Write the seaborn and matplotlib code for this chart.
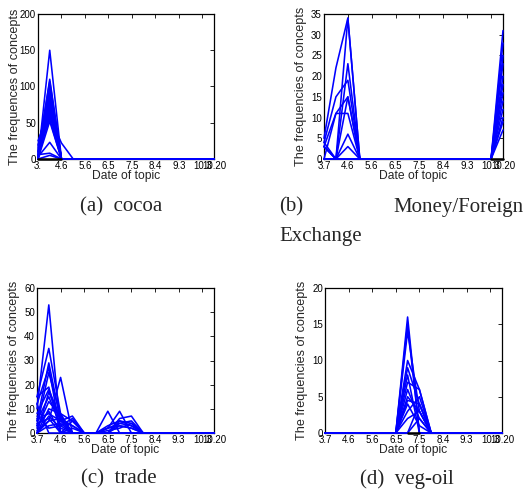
import pandas as pd
import matplotlib
matplotlib.use("Agg")
import matplotlib.pyplot as plt
import seaborn as sns

# index of the topic dates (half-month steps), ticks every two steps
x_index = list(range(16))
tick_pos = [0, 2, 4, 6, 8, 10, 12, 14, 15]
tick_labels = ["3.7", "4.6", "5.6", "6.5", "7.5", "8.4", "9.3", "10.3", "10.20"]
tick_labels_a = ["3.", "4.6", "5.6", "6.5", "7.5", "8.4", "9.3", "10.3", "10.20"]

# (a) cocoa: one row per concept, 16 dates
cocoa_lines = [
    [0, 150, 0, 0, 0, 0, 0, 0, 0, 0, 0, 0, 0, 0, 0, 0],
    [5, 110, 0, 0, 0, 0, 0, 0, 0, 0, 0, 0, 0, 0, 0, 0],
    [10, 107, 0, 0, 0, 0, 0, 0, 0, 0, 0, 0, 0, 0, 0, 0],
    [3, 100, 0, 0, 0, 0, 0, 0, 0, 0, 0, 0, 0, 0, 0, 0],
    [15, 95, 0, 0, 0, 0, 0, 0, 0, 0, 0, 0, 0, 0, 0, 0],
    [0, 91, 0, 0, 0, 0, 0, 0, 0, 0, 0, 0, 0, 0, 0, 0],
    [8, 87, 0, 0, 0, 0, 0, 0, 0, 0, 0, 0, 0, 0, 0, 0],
    [20, 84, 0, 0, 0, 0, 0, 0, 0, 0, 0, 0, 0, 0, 0, 0],
    [2, 80, 0, 0, 0, 0, 0, 0, 0, 0, 0, 0, 0, 0, 0, 0],
    [12, 76, 0, 0, 0, 0, 0, 0, 0, 0, 0, 0, 0, 0, 0, 0],
    [0, 72, 0, 0, 0, 0, 0, 0, 0, 0, 0, 0, 0, 0, 0, 0],
    [25, 68, 0, 0, 0, 0, 0, 0, 0, 0, 0, 0, 0, 0, 0, 0],
    [5, 65, 0, 0, 0, 0, 0, 0, 0, 0, 0, 0, 0, 0, 0, 0],
    [0, 62, 0, 0, 0, 0, 0, 0, 0, 0, 0, 0, 0, 0, 0, 0],
    [18, 58, 22, 0, 0, 0, 0, 0, 0, 0, 0, 0, 0, 0, 0, 0],
    [10, 55, 0, 0, 0, 0, 0, 0, 0, 0, 0, 0, 0, 0, 0, 0],
    [0, 52, 0, 0, 0, 0, 0, 0, 0, 0, 0, 0, 0, 0, 0, 0],
    [3, 23, 0, 0, 0, 0, 0, 0, 0, 0, 0, 0, 0, 0, 0, 0],
    [6, 8, 0, 0, 0, 0, 0, 0, 0, 0, 0, 0, 0, 0, 0, 0],
    [0, 5, 0, 0, 0, 0, 0, 0, 0, 0, 0, 0, 0, 0, 0, 0],
]
cocoa_black = [[0, 0], [2, 0]]  # (start idx, value), (end idx, value)

# (b) Money/Foreign Exchange
money_lines = [
    [5, 22, 34, 0, 0, 0, 0, 0, 0, 0, 0, 0, 0, 0, 0, 31],
    [4, 15, 19, 0, 0, 0, 0, 0, 0, 0, 0, 0, 0, 0, 0, 28],
    [3, 11, 11, 0, 0, 0, 0, 0, 0, 0, 0, 0, 0, 0, 0, 25],
    [4, 0, 34, 0, 0, 0, 0, 0, 0, 0, 0, 0, 0, 0, 0, 23],
    [3, 0, 23, 0, 0, 0, 0, 0, 0, 0, 0, 0, 0, 0, 0, 20],
    [0, 0, 15, 0, 0, 0, 0, 0, 0, 0, 0, 0, 0, 0, 0, 18],
    [3, 0, 6, 0, 0, 0, 0, 0, 0, 0, 0, 0, 0, 0, 0, 16],
    [0, 0, 3, 0, 0, 0, 0, 0, 0, 0, 0, 0, 0, 0, 0, 14],
    [0, 11, 15, 0, 0, 0, 0, 0, 0, 0, 0, 0, 0, 0, 0, 12],
    [3, 0, 0, 0, 0, 0, 0, 0, 0, 0, 0, 0, 0, 0, 0, 10],
    [0, 0, 0, 0, 0, 0, 0, 0, 0, 0, 0, 0, 0, 0, 0, 9],
    [0, 0, 0, 0, 0, 0, 0, 0, 0, 0, 0, 0, 0, 0, 0, 7],
]
money_black = [[14, 0], [15, 0]]

# (c) trade
trade_lines = [
    [10, 53, 0, 0, 0, 0, 0, 0, 0, 0, 0, 0, 0, 0, 0, 0],
    [15, 35, 8, 0, 0, 0, 9, 0, 0, 0, 0, 0, 0, 0, 0, 0],
    [5, 29, 5, 0, 0, 0, 2, 9, 0, 0, 0, 0, 0, 0, 0, 0],
    [0, 5, 23, 0, 0, 0, 0, 6, 7, 0, 0, 0, 0, 0, 0, 0],
    [12, 27, 0, 0, 0, 0, 3, 5, 4, 0, 0, 0, 0, 0, 0, 0],
    [3, 25, 7, 0, 0, 0, 2, 4, 3, 0, 0, 0, 0, 0, 0, 0],
    [8, 18, 6, 3, 0, 0, 0, 3, 2, 0, 0, 0, 0, 0, 0, 0],
    [0, 17, 5, 7, 0, 0, 1, 2, 4, 0, 0, 0, 0, 0, 0, 0],
    [5, 15, 3, 6, 0, 0, 0, 5, 3, 0, 0, 0, 0, 0, 0, 0],
    [2, 13, 7, 0, 0, 0, 0, 4, 5, 0, 0, 0, 0, 0, 0, 0],
    [0, 10, 8, 5, 0, 0, 2, 3, 2, 0, 0, 0, 0, 0, 0, 0],
    [3, 9, 0, 2, 0, 0, 0, 0, 0, 0, 0, 0, 0, 0, 0, 0],
    [6, 8, 5, 3, 0, 0, 0, 0, 0, 0, 0, 0, 0, 0, 0, 0],
    [0, 7, 2, 0, 0, 0, 0, 0, 0, 0, 0, 0, 0, 0, 0, 0],
    [4, 6, 0, 5, 0, 0, 0, 0, 0, 0, 0, 0, 0, 0, 0, 0],
    [1, 5, 6, 0, 0, 0, 0, 0, 0, 0, 0, 0, 0, 0, 0, 0],
    [0, 3, 4, 0, 0, 0, 0, 0, 0, 0, 0, 0, 0, 0, 0, 0],
    [15, 19, 0, 0, 0, 0, 0, 0, 0, 0, 0, 0, 0, 0, 0, 0],
    [12, 0, 0, 0, 0, 0, 0, 0, 0, 0, 0, 0, 0, 0, 0, 0],
    [7, 2, 3, 0, 0, 0, 0, 0, 0, 0, 0, 0, 0, 0, 0, 0],
]

# (d) veg-oil
vegoil_lines = [
    [0, 0, 0, 0, 0, 0, 0, 16, 0, 0, 0, 0, 0, 0, 0, 0],
    [0, 0, 0, 0, 0, 0, 0, 15, 0, 0, 0, 0, 0, 0, 0, 0],
    [0, 0, 0, 0, 0, 0, 0, 14, 3, 0, 0, 0, 0, 0, 0, 0],
    [0, 0, 0, 0, 0, 0, 0, 10, 6, 0, 0, 0, 0, 0, 0, 0],
    [0, 0, 0, 0, 0, 0, 0, 9, 4, 0, 0, 0, 0, 0, 0, 0],
    [0, 0, 0, 0, 0, 0, 0, 8, 0, 0, 0, 0, 0, 0, 0, 0],
    [0, 0, 0, 0, 0, 0, 0, 7, 6, 0, 0, 0, 0, 0, 0, 0],
    [0, 0, 0, 0, 0, 0, 0, 6, 2, 0, 0, 0, 0, 0, 0, 0],
    [0, 0, 0, 0, 0, 0, 0, 5, 3, 0, 0, 0, 0, 0, 0, 0],
    [0, 0, 0, 0, 0, 0, 0, 4.5, 4, 0, 0, 0, 0, 0, 0, 0],
    [0, 0, 0, 0, 0, 0, 0, 4, 1, 0, 0, 0, 0, 0, 0, 0],
    [0, 0, 0, 0, 0, 0, 0, 3, 5, 0, 0, 0, 0, 0, 0, 0],
    [0, 0, 0, 0, 0, 0, 0, 2, 3, 0, 0, 0, 0, 0, 0, 0],
    [0, 0, 0, 0, 0, 0, 0, 0, 4, 0, 0, 0, 0, 0, 0, 0],
    [0, 0, 0, 0, 0, 0, 0, 0, 2, 0, 0, 0, 0, 0, 0, 0],
]
vegoil_black = [[7, 0], [8, 0]]

W, H = 526, 494
sns.set_style("white")
plt.rcParams["font.family"] = ["Liberation Sans", "DejaVu Sans"]

fig = plt.figure(figsize=(W / 100, H / 100), dpi=100)


def px_rect(l, t, r, b):
    return [l / W, 1 - b / H, (r - l) / W, (b - t) / H]


def long_df(rows):
    recs = []
    for i, row in enumerate(rows):
        for x, v in zip(x_index, row):
            recs.append({"concept": i, "date": x, "freq": v})
    return pd.DataFrame(recs)


panels = [
    (cocoa_lines, cocoa_black, (38, 14, 214, 159), 200, 50, tick_labels_a,
     "The frequences of concepts"),
    (money_lines, money_black, (324, 14, 503, 159), 35, 5, tick_labels,
     "The frequencies of concepts"),
    (trade_lines, None, (37, 288, 214, 433), 60, 10, tick_labels,
     "The frequencies of concepts"),
    (vegoil_lines, vegoil_black, (325, 288, 502, 433), 20, 5, tick_labels,
     "The frequencies of concepts"),
]

for rows, black, box, ymax, ystep, xlabels, ylab in panels:
    l, t, r, b = box
    ax = fig.add_axes(px_rect(l, t, r, b))
    sns.lineplot(data=long_df(rows), x="date", y="freq", units="concept",
                 estimator=None, color="#0000ff", lw=1.15, ax=ax, legend=False)
    if black is not None:
        bdf = pd.DataFrame({"date": [black[0][0], black[1][0]],
                            "freq": [black[0][1], black[1][1]]})
        sns.lineplot(data=bdf, x="date", y="freq", color="black", lw=1.8, ax=ax)
    for ln in ax.lines:
        ln.set_clip_on(False)
        ln.set_zorder(3)
    ax.set_xlim(0, 15)
    ax.set_ylim(0, ymax)
    ax.set_xticks(tick_pos)
    ax.set_xticklabels(xlabels)
    ax.set_yticks(list(range(0, ymax + 1, ystep)))
    ax.tick_params(direction="in", top=True, right=True, length=3, width=0.6,
                   labelsize=7, pad=1.5, colors="black")
    ax.set_xlabel("")
    ax.set_ylabel("")
    for sp in ax.spines.values():
        sp.set_color("black")
        sp.set_linewidth(0.9)
    ax.set_facecolor("white")
    cx = (l + r) / 2
    fig.text(cx / W, 1 - (b + 17) / H, "Date of topic", ha="center",
             va="center", fontsize=8.7)
    fig.text((l - 23) / W, 1 - ((t + b) / 2) / H, ylab, rotation=90,
             ha="center", va="center", fontsize=9.1)

serif = ["Liberation Serif", "DejaVu Serif"]
fig.text(121 / W, 1 - 207 / H, "(a)  cocoa", ha="center", va="center",
         fontsize=15, family=serif)
fig.text(279 / W, 1 - 207 / H, "(b)", ha="left", va="center",
         fontsize=15, family=serif)
fig.text(524 / W, 1 - 207 / H, "Money/Foreign", ha="right", va="center",
         fontsize=15, family=serif)
fig.text(279 / W, 1 - 237 / H, "Exchange", ha="left", va="center",
         fontsize=15, family=serif)
fig.text(119 / W, 1 - 479 / H, "(c)  trade", ha="center", va="center",
         fontsize=15, family=serif)
fig.text(407 / W, 1 - 479 / H, "(d)  veg-oil", ha="center", va="center",
         fontsize=15, family=serif)

fig.savefig("out.png", dpi=100, facecolor="white")
